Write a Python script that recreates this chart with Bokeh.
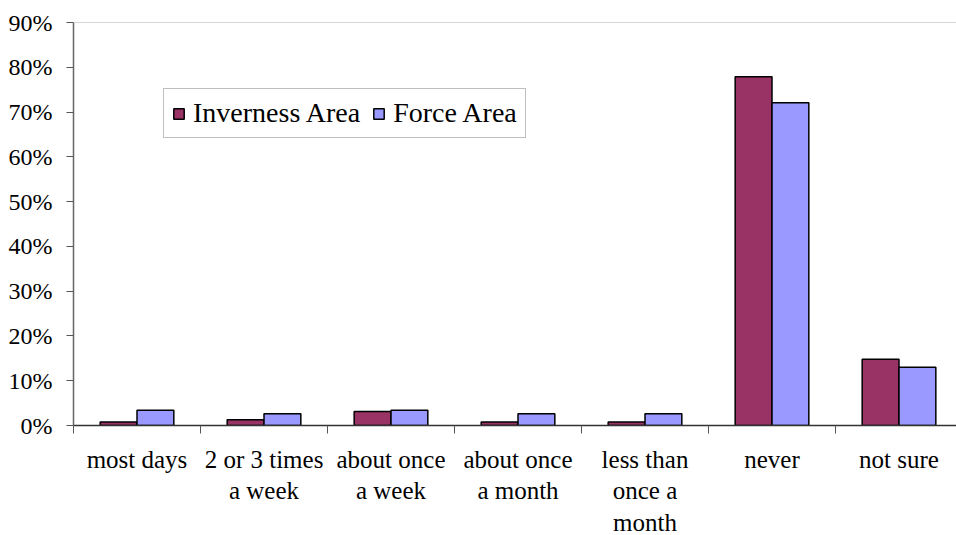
from bokeh.plotting import figure
from bokeh.models import Range1d, FixedTicker, NumeralTickFormatter, Span, Legend, LegendItem, ColumnDataSource
from bokeh.embed import file_html
from bokeh.resources import INLINE

categories = ["most days", "2 or 3 times\na week", "about once\na week", "about once\na month",
              "less than\nonce a\nmonth", "never", "not sure"]
inverness = [0.008, 0.013, 0.031, 0.008, 0.008, 0.779, 0.148]
force = [0.034, 0.026, 0.034, 0.026, 0.026, 0.721, 0.130]
y_ticks = [0.0, 0.1, 0.2, 0.3, 0.4, 0.5, 0.6, 0.7, 0.8, 0.9]

FONT = "Liberation Serif"
n = len(categories)
centers = [i + 0.5 for i in range(n)]
bounds = [float(i) for i in range(n + 1)]

p = figure(output_backend="svg", toolbar_location=None,
           frame_width=883, frame_height=403,
           min_border_left=73, min_border_top=22, min_border_right=0, min_border_bottom=110,
           x_range=Range1d(0, 883 / 127.0), y_range=Range1d(0, 0.9))
p.outline_line_color = None
p.xgrid.visible = False
p.ygrid.visible = False
p.background_fill_color = "white"
p.border_fill_color = "white"

src_i = ColumnDataSource(dict(x=[c - 0.145 for c in centers], top=inverness))
src_f = ColumnDataSource(dict(x=[c + 0.145 for c in centers], top=force))
r1 = p.vbar(x="x", top="top", width=0.29, source=src_i, fill_color="#993366",
            line_color="black", line_width=1.5)
r2 = p.vbar(x="x", top="top", width=0.29, source=src_f, fill_color="#9999FF",
            line_color="black", line_width=1.5)

p.add_layout(Span(location=0.9, dimension="width", line_color="#b0b0b0", line_width=1))

# x axis
xa = p.xaxis[0]
xa.ticker = FixedTicker(ticks=centers, minor_ticks=bounds)
xa.major_label_overrides = {c: lab for c, lab in zip(centers, categories)}
xa.major_tick_in = 0
xa.major_tick_out = 0
xa.minor_tick_in = 0
xa.minor_tick_out = 8
xa.minor_tick_line_color = "#555555"
xa.axis_line_color = "#333333"
xa.axis_line_width = 1.5
xa.major_label_text_font = FONT
xa.major_label_text_font_size = "25px"
xa.major_label_text_line_height = 1.18
xa.major_label_text_color = "black"
xa.major_label_standoff = 12

# y axis
ya = p.yaxis[0]
ya.ticker = FixedTicker(ticks=y_ticks, minor_ticks=[])
ya.formatter = NumeralTickFormatter(format="0%")
ya.major_tick_in = 0
ya.major_tick_out = 7
ya.major_tick_line_color = "#555555"
ya.axis_line_color = "#666666"
ya.axis_line_width = 1.5
ya.major_label_text_font = FONT
ya.major_label_text_font_size = "24px"
ya.major_label_text_color = "black"
ya.major_label_standoff = 14

legend = Legend(items=[LegendItem(label="Inverness Area", renderers=[r1]),
                       LegendItem(label="Force Area", renderers=[r2])],
                orientation="horizontal", location=(90, 287),
                label_text_font=FONT, label_text_font_size="28px", label_text_color="black",
                glyph_width=13, glyph_height=13, label_standoff=8, spacing=12,
                padding=8, margin=0,
                border_line_color="#808080", border_line_width=1,
                background_fill_color="white", background_fill_alpha=1)
p.add_layout(legend, "center")

open("out.html", "w").write(file_html(p, INLINE))
